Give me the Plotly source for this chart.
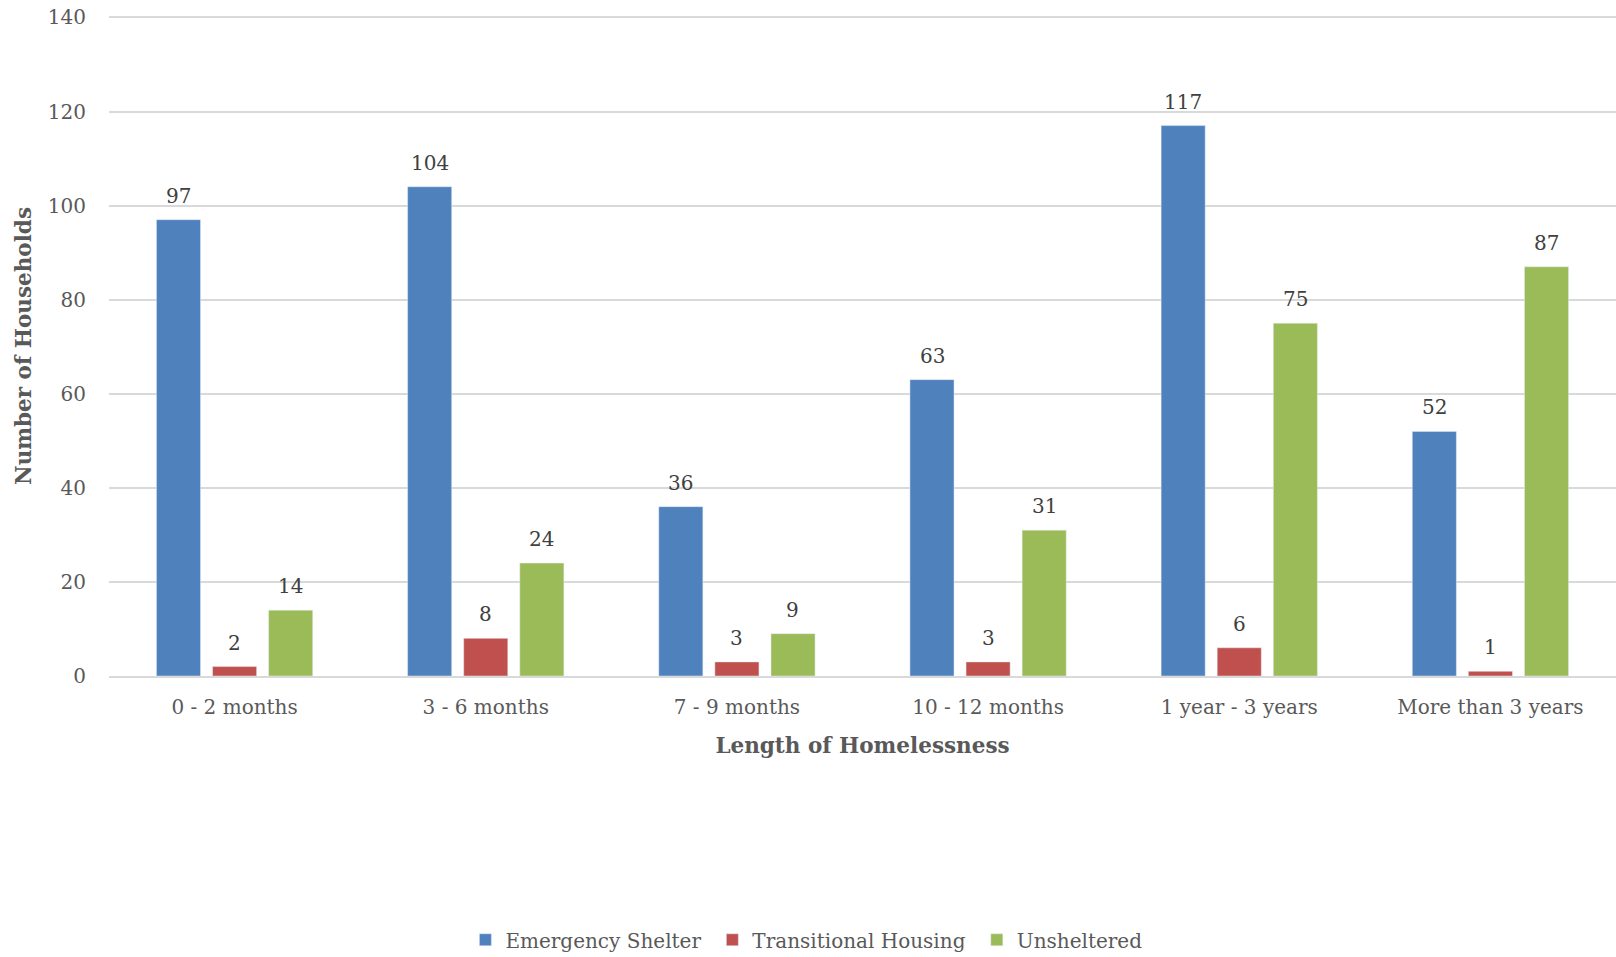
import plotly.graph_objects as go

categories = ["0 - 2 months", "3 - 6 months", "7 - 9 months", "10 - 12 months", "1 year - 3 years", "More than 3 years"]
emergency = [97, 104, 36, 63, 117, 52]
transitional = [2, 8, 3, 3, 6, 1]
unsheltered = [14, 24, 9, 31, 75, 87]
y_ticks = [0, 20, 40, 60, 80, 100, 120, 140]
series_names = ["Emergency Shelter", "Transitional Housing", "Unsheltered"]

FONT = "DejaVu Serif"
series = [
    (series_names[0], emergency, "#4F81BD"),
    (series_names[1], transitional, "#C0504D"),
    (series_names[2], unsheltered, "#9BBB59"),
]
# pixel offset of each series' bar centre within its category group (style only)
SLOT_PX = 56

fig = go.Figure()
for i, (name, vals, col) in enumerate(series):
    legend_name = name + ("\u00a0" if i < len(series) - 1 else "")
    fig.add_trace(go.Bar(name=legend_name, x=categories, y=vals, marker_color=col))
    for c, v in zip(categories, vals):
        fig.add_annotation(
            x=c, y=v, xref="x", yref="y", text=str(v), showarrow=False,
            xshift=(i - 1) * SLOT_PX, yshift=10, yanchor="bottom",
            font=dict(family=FONT, size=20, color="#404040"),
        )

fig.update_layout(
    width=1616, height=957,
    margin=dict(l=109, r=0, t=16, b=281, autoexpand=False),
    paper_bgcolor="white", plot_bgcolor="white",
    barmode="group", bargap=0.33, bargroupgap=0.214,
    font=dict(family=FONT, size=20, color="#595959"),
    showlegend=True,
    legend=dict(orientation="h", xref="container", yref="container",
                x=0.499, xanchor="center", y=0.018, yanchor="middle",
                font=dict(family=FONT, size=20, color="#595959"),
                itemwidth=30, traceorder="normal"),
)
fig.update_xaxes(
    title=dict(text="<b>Length of Homelessness</b>", font=dict(family=FONT, size=21.5, color="#595959"), standoff=20),
    tickfont=dict(family=FONT, size=20, color="#595959"),
    showline=True, linecolor="#D9D9D9", linewidth=2, ticks="", automargin=False,
    ticklabelstandoff=12,
)
fig.update_yaxes(
    title=dict(text="<b>Number of Households</b>", font=dict(family=FONT, size=21.5, color="#595959"), standoff=10),
    range=[0, 140.3], tickvals=y_ticks,
    tickfont=dict(family=FONT, size=20, color="#595959"),
    showgrid=True, gridcolor="#D9D9D9", gridwidth=1.5, zeroline=False,
    ticks="", ticklabelstandoff=22, automargin=False,
)

fig.write_html("out.html", config={"displayModeBar": False},
               post_script="document.body.style.margin='0';")
